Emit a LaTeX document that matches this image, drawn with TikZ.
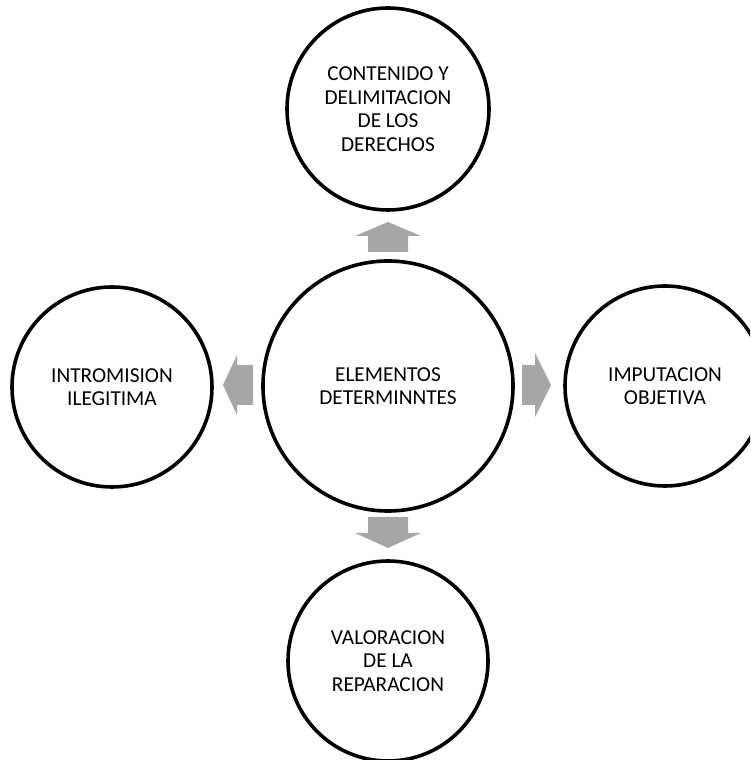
\documentclass[tikz,border=0pt]{standalone}
\usepackage{fontspec}
\setmainfont{Carlito}
\begin{document}
\begin{tikzpicture}[x=1pt,y=1pt,
  bubble/.style={circle,draw=black,line width=3.6pt,fill=white,align=center,inner sep=0pt,
    font=\fontsize{21.3}{23.5}\selectfont},
  blockarrow/.style={fill=arrowgray,draw=none}]
\definecolor{arrowgray}{RGB}{166,166,166}
\useasboundingbox (0,0) rectangle (750,760);
\clip (0,0) rectangle (750,760);
\node[bubble,minimum size=250pt] (c) at (388,374) {ELEMENTOS\\DETERMINNTES};
\node[bubble,minimum size=202pt] (t) at (388,651) {CONTENIDO Y\\DELIMITACION\\DE LOS\\DERECHOS};
\node[bubble,minimum size=200pt] (l) at (112,373) {INTROMISION\\ILEGITIMA};
\node[bubble,minimum size=200pt] (r) at (665,374) {IMPUTACION\\OBJETIVA};
\node[bubble,minimum size=200pt] (b) at (388,99) {VALORACION\\DE LA\\REPARACION};
% block arrows
\coordinate (au) at (388,523);
\coordinate (ad) at (388,228);
\coordinate (al) at (238,375);
\coordinate (ar) at (537,375);
\fill[blockarrow] ([shift={(-20,-15)}]au) -- ([shift={(20,-15)}]au) -- ([shift={(20,1)}]au)
  -- ([shift={(33,1)}]au) -- ([shift={(0,15)}]au) -- ([shift={(-33,1)}]au) -- ([shift={(-20,1)}]au) -- cycle;
\fill[blockarrow] ([shift={(-20,15)}]ad) -- ([shift={(20,15)}]ad) -- ([shift={(20,-1)}]ad)
  -- ([shift={(33,-1)}]ad) -- ([shift={(0,-16)}]ad) -- ([shift={(-33,-1)}]ad) -- ([shift={(-20,-1)}]ad) -- cycle;
\fill[blockarrow] ([shift={(15,-20)}]al) -- ([shift={(15,20)}]al) -- ([shift={(-1,20)}]al)
  -- ([shift={(-1,30)}]al) -- ([shift={(-15,0)}]al) -- ([shift={(-1,-30)}]al) -- ([shift={(-1,-20)}]al) -- cycle;
\fill[blockarrow] ([shift={(-15,-20)}]ar) -- ([shift={(-15,20)}]ar) -- ([shift={(-2,20)}]ar)
  -- ([shift={(-2,32)}]ar) -- ([shift={(14,0)}]ar) -- ([shift={(-2,-32)}]ar) -- ([shift={(-2,-20)}]ar) -- cycle;
\end{tikzpicture}
\end{document}
